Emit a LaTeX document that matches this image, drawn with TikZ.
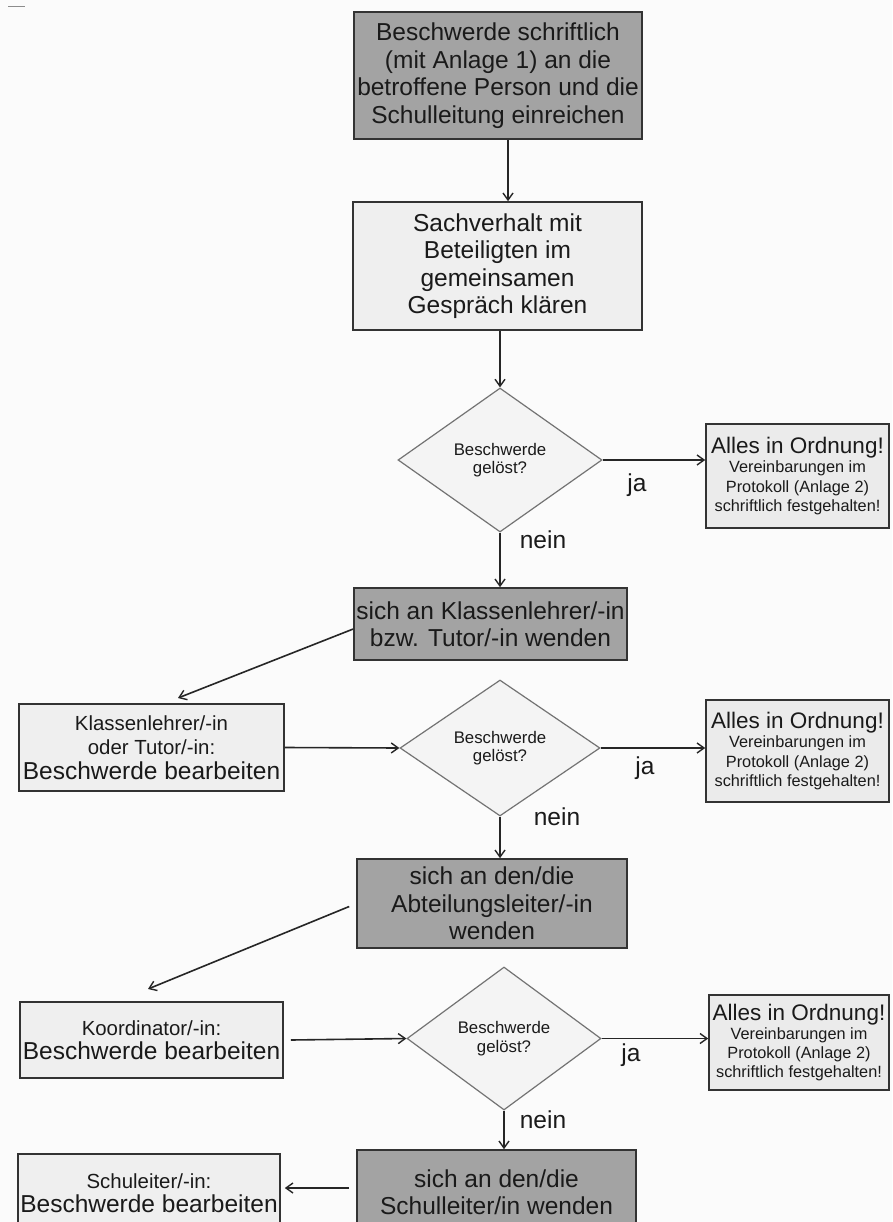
\documentclass[tikz,border=0pt]{standalone}
\usepackage{fontspec}
\setmainfont{Liberation Sans}
\usetikzlibrary{shapes.geometric,arrows.meta}
\definecolor{bgcol}{HTML}{FBFBFB}
\definecolor{darkfill}{HTML}{A3A3A3}
\definecolor{lightfill}{HTML}{EFEFEF}
\definecolor{okfill}{HTML}{EBEBEB}
\definecolor{diafill}{HTML}{F4F4F4}
\definecolor{bordercol}{HTML}{333333}
\definecolor{txtcol}{HTML}{1A1A1A}
\newcommand\FBig{\fontsize{24.5}{27.5}\selectfont}
\newcommand\FMed{\fontsize{20.4}{24.5}\selectfont}
\newcommand\FOk{\fontsize{22.5}{23}\selectfont}
\newcommand\FSmall{\fontsize{16.3}{19.2}\selectfont}
\newcommand\FDia{\fontsize{16.8}{18.5}\selectfont}
\tikzset{
  base/.style={draw=bordercol, line width=1.6pt, inner sep=0pt, align=center, text=txtcol},
  darkbox/.style={base, fill=darkfill, font=\FBig},
  lightbox/.style={base, fill=lightfill, font=\FBig},
  okbox/.style={base, fill=okfill, font=\FSmall},
  decision/.style={diamond, draw=black!55, line width=1.2pt, fill=diafill, inner sep=0pt, align=center, text=txtcol, font=\FDia},
  lbl/.style={inner sep=0pt, text=txtcol, font=\FBig},
  conn/.style={draw=black!85, line width=1.6pt, -{Straight Barb[length=7pt,width=10pt,line width=1.4pt]}}
}
\begin{document}
\begin{tikzpicture}[x=1pt,y=-1pt]
\useasboundingbox (0,0) rectangle (892,1222);
\clip (0,0) rectangle (892,1222);
\fill[bgcol] (0,0) rectangle (892,1222);
\draw[black!45, line width=1pt] (8,7) -- (25,7);

\node[darkbox, minimum width=288, minimum height=127] (box1) at (498,75.5)
  {Beschwerde schriftlich\\(mit Anlage 1) an die\\betroffene Person und die\\Schulleitung einreichen};
\node[lightbox, minimum width=289, minimum height=128] (box2) at (497.5,266)
  {Sachverhalt mit\\Beteiligten im\\gemeinsamen\\Gespräch klären};
\node[decision, minimum width=204, minimum height=144] (d1) at (500,460) {Beschwerde\\gelöst?};
\node[okbox, minimum width=183, minimum height=104] (ok1) at (797.5,476)
  {{\FOk Alles in Ordnung!}\\Vereinbarungen im\\Protokoll (Anlage 2)\\schriftlich festgehalten!};
\node[darkbox, minimum width=273, minimum height=72] (box3) at (490.5,624)
  {sich an Klassenlehrer/-in\\bzw. Tutor/-in wenden};
\node[lightbox, font=\FMed, minimum width=265, minimum height=87] (box4) at (151.5,747.5)
  {Klassenlehrer/-in\\oder Tutor/-in:\\\FBig Beschwerde bearbeiten};
\node[decision, minimum width=200, minimum height=136] (d2) at (500,748) {Beschwerde\\gelöst?};
\node[okbox, minimum width=183, minimum height=102] (ok2) at (797.5,751)
  {{\FOk Alles in Ordnung!}\\Vereinbarungen im\\Protokoll (Anlage 2)\\schriftlich festgehalten!};
\node[darkbox, minimum width=270, minimum height=89] (box5) at (492,903.5)
  {sich an den/die\\Abteilungsleiter/-in\\wenden};
\node[lightbox, font=\FMed, minimum width=263, minimum height=76] (box6) at (151.5,1040)
  {Koordinator/-in:\\\FBig Beschwerde bearbeiten};
\node[decision, minimum width=194, minimum height=143] (d3) at (504,1038.5) {Beschwerde\\gelöst?};
\node[okbox, minimum width=180, minimum height=95] (ok3) at (799,1042.5)
  {{\FOk Alles in Ordnung!}\\Vereinbarungen im\\Protokoll (Anlage 2)\\schriftlich festgehalten!};
\node[darkbox, minimum width=279, minimum height=84] (box7) at (496.5,1192)
  {sich an den/die\\Schulleiter/in wenden};
\node[lightbox, font=\FMed, minimum width=262, minimum height=78] (box8) at (149,1193)
  {Schuleiter/-in:\\\FBig Beschwerde bearbeiten};

\node[lbl] (ja1) at (637,485) {ja};
\node[lbl] (nein1) at (543,540) {nein};
\node[lbl] (ja2) at (645,768) {ja};
\node[lbl] (nein2) at (557,817) {nein};
\node[lbl] (ja3) at (631,1055) {ja};
\node[lbl] (nein3) at (543,1120) {nein};

\coordinate (c1) at (178,698);
\coordinate (c2) at (148,989);

\draw[conn] ([xshift=10pt]box1.south) -- ([xshift=10pt]box1.south |- box2.north);
\draw[conn] (box2.south -| d1.north) -- (d1.north);
\draw[conn] (d1.east) -- (d1.east -| ok1.west);
\draw[conn] (d1.south) -- (d1.south |- box3.north);
\draw[conn] ([yshift=-5pt]box3.west) -- (c1);
\draw[conn] (box4.east) -- (d2.west);
\draw[conn] (d2.east) -- (d2.east -| ok2.west);
\draw[conn] (d2.south) -- (d2.south |- box5.north);
\draw[conn] ([xshift=-7pt,yshift=-3pt]box5.west) -- (c2);
\draw[conn] ([xshift=7pt]box6.east) -- (d3.west);
\draw[conn] (d3.east) -- (d3.east -| ok3.west);
\draw[conn] (d3.south) -- (d3.south |- box7.north);
\draw[conn] ([xshift=-7pt,yshift=4pt]box7.west) -- ([xshift=4pt,yshift=4pt]box7.west -| box8.east);
\end{tikzpicture}
\end{document}
